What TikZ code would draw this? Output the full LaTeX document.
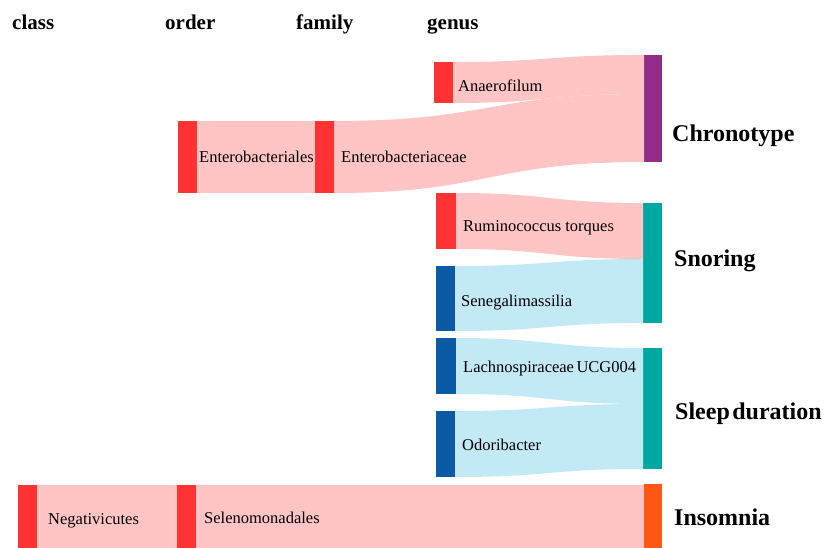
\documentclass[tikz,border=0pt]{standalone}
\usepackage{fontspec}
\setmainfont{Liberation Serif}
\usetikzlibrary{calc}
\definecolor{barred}{HTML}{FF3333}
\definecolor{flowpink}{HTML}{FFC4C4}
\definecolor{barblue}{HTML}{0A5AA6}
\definecolor{flowblue}{HTML}{C3E9F7}
\definecolor{chronocol}{HTML}{922C88}
\definecolor{tealbar}{HTML}{00A8A2}
\definecolor{insomcol}{HTML}{FF5716}
\tikzset{
  bar/.style={rectangle, inner sep=0pt, outer sep=0pt, minimum width=19pt, anchor=north west},
  taxlabel/.style={anchor=base west, inner sep=0pt, font=\fontsize{16.5}{18}\selectfont},
  traitlabel/.style={anchor=base west, inner sep=0pt, font=\fontsize{24}{26}\selectfont\bfseries},
  header/.style={anchor=base west, inner sep=0pt, font=\fontsize{21}{23}\selectfont\bfseries},
}
\begin{document}
\begin{tikzpicture}[x=1pt,y=-1pt]
\useasboundingbox (0,0) rectangle (825,548);
% bars
\node[bar, fill=barred, minimum height=41pt] (anae) at (434,62) {};
\node[bar, fill=barred, minimum height=72pt] (ord) at (178,121) {};
\node[bar, fill=barred, minimum height=72pt] (fam) at (315,121) {};
\node[bar, fill=chronocol, minimum height=107pt, minimum width=18pt] (chr) at (644,55) {};
\node[bar, fill=barred, minimum height=56pt, minimum width=20pt] (rum) at (436,193) {};
\node[bar, fill=barblue, minimum height=65pt] (sen) at (436,266) {};
\node[bar, fill=barblue, minimum height=56pt, minimum width=20pt] (lac) at (436,338) {};
\node[bar, fill=barblue, minimum height=66pt] (odo) at (436,411) {};
\node[bar, fill=tealbar, minimum height=120pt] (sno) at (643,203) {};
\node[bar, fill=tealbar, minimum height=121pt] (sle) at (643,348) {};
\node[bar, fill=barred, minimum height=63pt] (neg) at (18,485) {};
\node[bar, fill=barred, minimum height=63pt] (sel) at (177,485) {};
\node[bar, fill=insomcol, minimum height=64pt, minimum width=18pt] (ins) at (644,484) {};
% flows
\fill[flowpink] (anae.north east) .. controls +(95,0) and +(-95,0) .. (chr.north west)
  -- ($(chr.north west)+(0,39)$) .. controls +(-95,0) and +(95,0) .. (anae.south east) -- cycle;
\fill[flowpink] (fam.north east) .. controls +(155,0) and +(-155,0) .. ($(chr.north west)+(0,39)$)
  -- (chr.south west) .. controls +(-155,0) and +(155,0) .. (fam.south east) -- cycle;
\fill[flowpink] (ord.north east) rectangle (fam.south west);
\fill[flowpink] (rum.north east) .. controls +(93,0) and +(-93,0) .. (sno.north west)
  -- ($(sno.north west)+(0,56)$) .. controls +(-93,0) and +(93,0) .. (rum.south east) -- cycle;
\fill[flowblue] (sen.north east) .. controls +(94,0) and +(-94,0) .. ($(sno.north west)+(0,56)$)
  -- (sno.south west) .. controls +(-94,0) and +(94,0) .. (sen.south east) -- cycle;
\fill[flowblue] (lac.north east) .. controls +(93,0) and +(-93,0) .. (sle.north west)
  -- ($(sle.north west)+(0,56)$) .. controls +(-93,0) and +(93,0) .. (lac.south east) -- cycle;
\fill[flowblue] (odo.north east) .. controls +(94,0) and +(-94,0) .. ($(sle.north west)+(0,56)$)
  -- (sle.south west) .. controls +(-94,0) and +(94,0) .. (odo.south east) -- cycle;
\fill[flowpink] (neg.north east) rectangle (sel.south west);
\fill[flowpink] (sel.north east) rectangle (ins.south west);
% headers
\node[header] (hclass) at (12,30) {class};
\node[header] (horder) at (165,30) {order};
\node[header] (hfamily) at (296,30) {family};
\node[header] (hgenus) at (427,30) {genus};
% taxon labels
\node[taxlabel] (lanae) at (458,92) {Anaerofilum};
\node[taxlabel] (lord) at (199,163) {Enterobacteriales};
\node[taxlabel] (lfam) at (341,163) {Enterobacteriaceae};
\node[taxlabel] (lrum) at (463,232) {Ruminococcus torques};
\node[taxlabel] (lsen) at (461,306) {Senegalimassilia};
\node[taxlabel] (llac) at (463,372) {Lachnospiraceae\hspace{2.5pt}UCG004};
\node[taxlabel] (lodo) at (462,450) {Odoribacter};
\node[taxlabel] (lneg) at (48,524) {Negativicutes};
\node[taxlabel] (lsel) at (204,523) {Selenomonadales};
% trait labels
\node[traitlabel] (lchr) at (672,142) {Chronotype};
\node[traitlabel] (lsno) at (674,266) {Snoring};
\node[traitlabel] (lsle) at (675,419) {Sleep\hspace{2.5pt}duration};
\node[traitlabel] (lins) at (674,525) {Insomnia};
\end{tikzpicture}
\end{document}
